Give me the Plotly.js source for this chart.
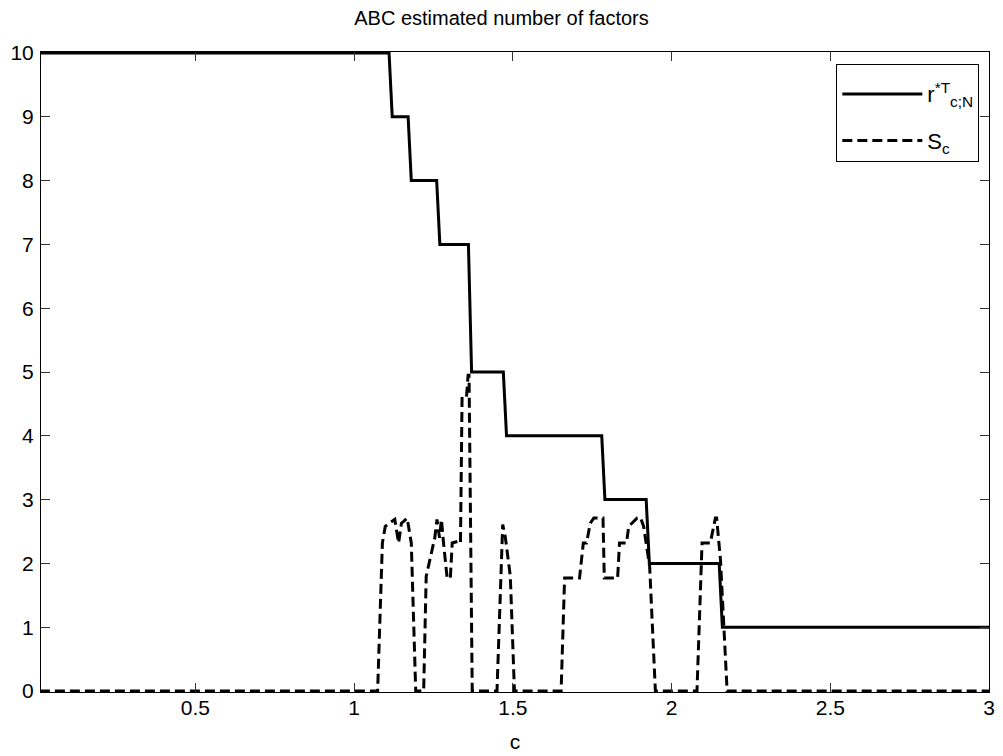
<!DOCTYPE html>
<html>
<head>
<meta charset="utf-8">
<script src="https://cdn.plot.ly/plotly-3.0.1.min.js"></script>
<style>
html,body{margin:0;padding:0;background:#fff;}
#chart{width:1003px;height:756px;}
</style>
</head>
<body>
<div id="chart"></div>
<script>
// r*T_{c;N} : estimated number of factors (step function corners)
const rX = [0.01, 1.11, 1.12, 1.17, 1.18, 1.26, 1.27, 1.36, 1.37, 1.47, 1.48, 1.78, 1.79, 1.92, 1.93, 2.15, 2.16, 3.0];
const rY = [10, 10, 9, 9, 8, 8, 7, 7, 5, 5, 4, 4, 3, 3, 2, 2, 1, 1];

// S_c
const sX = [0.01, 1.074, 1.089, 1.098, 1.114, 1.128, 1.140, 1.149, 1.156, 1.167, 1.180, 1.194,
            1.219, 1.227, 1.254, 1.261, 1.269, 1.275, 1.281, 1.293, 1.303, 1.309, 1.330, 1.335,
            1.340, 1.354, 1.359, 1.362, 1.372, 1.450, 1.468, 1.476, 1.492, 1.505, 1.652, 1.663,
            1.710, 1.722, 1.732, 1.744, 1.755, 1.784, 1.788, 1.830, 1.836, 1.858, 1.865, 1.891,
            1.902, 1.912, 1.931, 1.949, 2.080, 2.096, 2.122, 2.138, 2.142, 2.154, 2.175, 3.0];
const sY = [0, 0, 2.32, 2.58, 2.64, 2.69, 2.32, 2.63, 2.66, 2.71, 2.32, 0,
            0, 1.80, 2.40, 2.69, 2.40, 2.69, 2.35, 1.77, 1.77, 2.32, 2.35, 2.32,
            4.61, 4.61, 4.95, 4.95, 0, 0, 2.61, 2.42, 1.80, 0, 0, 1.77,
            1.77, 2.32, 2.32, 2.63, 2.71, 2.71, 1.77, 1.77, 2.32, 2.32, 2.58, 2.71,
            2.72, 2.58, 1.95, 0, 0, 2.32, 2.32, 2.71, 2.71, 2.06, 0, 0];

const xTicks = [0.5, 1, 1.5, 2, 2.5, 3];
const xTickText = ['0.5', '1', '1.5', '2', '2.5', '3'];
const yTicks = [0, 1, 2, 3, 4, 5, 6, 7, 8, 9, 10];

const titleText = 'ABC estimated number of factors';
const xTitle = 'c';
const name1 = 'r<sup>*T</sup><sub>c;N</sub>';
const name2 = 'S<sub>c</sub>';

const FONT = 'Liberation Sans, Arial, Helvetica, sans-serif';

const traces = [
  {x: rX, y: rY, type: 'scatter', mode: 'lines', name: name1, legendgroup: 'g1',
   line: {color: '#000', width: 3, shape: 'linear'}},
  {x: sX, y: sY, type: 'scatter', mode: 'lines', name: name2, legendgroup: 'g2',
   line: {color: '#000', width: 3, dash: '10px,5px'}}
];

const layout = {
  width: 1003, height: 756,
  margin: {l: 41, r: 14, t: 52, b: 64, pad: 0},
  paper_bgcolor: '#fff', plot_bgcolor: '#fff',
  font: {family: FONT, size: 21, color: '#000'},
  title: {text: titleText, font: {family: FONT, size: 20, color: '#000'},
          x: 0.5, xref: 'container', xanchor: 'center', y: 1, yref: 'container', yanchor: 'top', pad: {t: 11}},
  xaxis: {
    range: [0.0135, 3], tickvals: xTicks, ticktext: xTickText,
    ticks: 'inside', ticklen: 9, tickwidth: 1, tickcolor: '#333',
    showline: true, linecolor: '#000', linewidth: 1, mirror: 'ticks',
    showgrid: false, zeroline: false, ticklabelstandoff: -3,
    tickfont: {family: FONT, size: 21, color: '#000'},
    title: {text: xTitle, font: {family: FONT, size: 21, color: '#000'}, standoff: 16}
  },
  yaxis: {
    range: [-0.015, 10.015], tickvals: yTicks,
    ticks: 'inside', ticklen: 9, tickwidth: 1, tickcolor: '#333',
    showline: true, linecolor: '#000', linewidth: 1, mirror: 'ticks',
    showgrid: false, zeroline: false, ticklabelstandoff: 2,
    tickfont: {family: FONT, size: 21, color: '#000'}
  },
  showlegend: true,
  legend: {
    x: 0.9898, y: 0.9808, xanchor: 'right', yanchor: 'top',
    bgcolor: '#fff', bordercolor: '#000', borderwidth: 1,
    font: {family: FONT, size: 22, color: '#000'},
    itemwidth: 80, tracegroupgap: 15,
    title: {text: ' ', font: {family: FONT, size: 6}}
  }
};

Plotly.newPlot('chart', traces, layout, {displayModeBar: false, staticPlot: true});
</script>
</body>
</html>
